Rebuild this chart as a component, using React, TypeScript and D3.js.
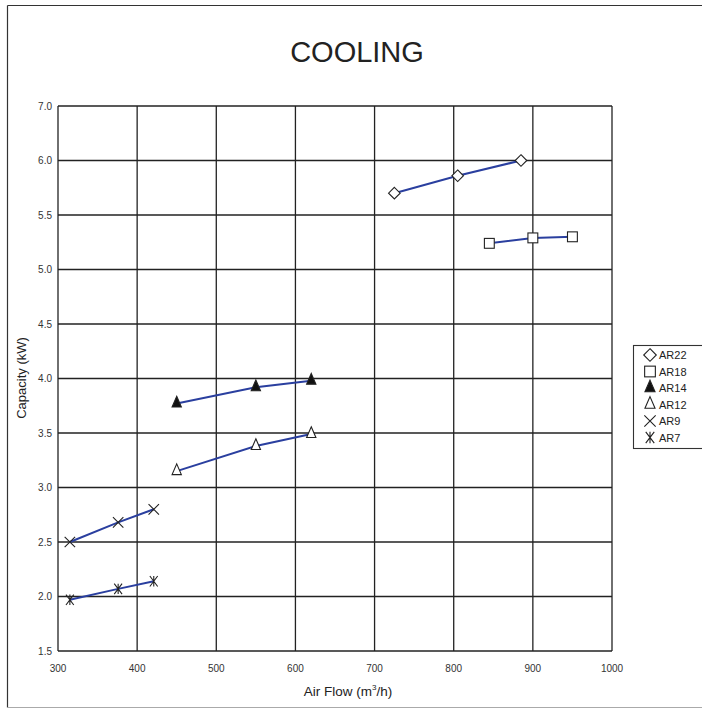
import React from "react";
import * as d3 from "d3";

const W = 702;
const H = 709;

const xTicks = [300, 400, 500, 600, 700, 800, 900, 1000];
const yTickValues = [1.5, 2.0, 2.5, 3.0, 3.5, 4.0, 4.5, 5.0, 5.5, 6.0, 6.5];
const yTickLabels = ["1.5", "2.0", "2.5", "3.0", "3.5", "4.0", "4.5", "5.0", "5.5", "6.0", "7.0"];

const seriesNames = ["AR22", "AR18", "AR14", "AR12", "AR9", "AR7"];
const markerTypes = ["diamond", "square", "triFilled", "triOpen", "x", "asterisk"];

const ar22Flow = [725, 805, 885];
const ar22Cap = [5.70, 5.86, 6.0];
const ar18Flow = [845, 900, 950];
const ar18Cap = [5.24, 5.29, 5.30];
const ar14Flow = [450, 550, 620];
const ar14Cap = [3.77, 3.92, 3.98];
const ar12Flow = [450, 550, 620];
const ar12Cap = [3.15, 3.38, 3.49];
const ar9Flow = [315, 376, 421];
const ar9Cap = [2.50, 2.68, 2.80];
const ar7Flow = [315, 376, 421];
const ar7Cap = [1.97, 2.07, 2.14];

const flows = [ar22Flow, ar18Flow, ar14Flow, ar12Flow, ar9Flow, ar7Flow];
const caps = [ar22Cap, ar18Cap, ar14Cap, ar12Cap, ar9Cap, ar7Cap];

const left = 58, right = 612, top = 106, bottom = 651;
const x = d3.scaleLinear().domain([300, 1000]).range([left, right]);
const y = d3.scaleLinear().domain([1.5, 6.5]).range([bottom, top]);

function Marker({ type, cx, cy, s }: { type: string; cx: number; cy: number; s: number }) {
  const st = { stroke: "#222", strokeWidth: 1.1 };
  if (type === "diamond") {
    return <path d={`M${cx},${cy - s}L${cx + s},${cy}L${cx},${cy + s}L${cx - s},${cy}Z`} fill="#fff" {...st} />;
  }
  if (type === "square") {
    const h = s * 0.85;
    return <rect x={cx - h} y={cy - h} width={2 * h} height={2 * h} fill="#fff" {...st} />;
  }
  if (type === "triFilled" || type === "triOpen") {
    const filled = type === "triFilled";
    return (
      <path
        d={`M${cx},${cy - s * 1.25}L${cx + s * 0.8},${cy + s * 0.6}L${cx - s * 0.8},${cy + s * 0.6}Z`}
        fill={filled ? "#111" : "#fff"}
        {...st}
      />
    );
  }
  if (type === "x") {
    const h = s * 0.9;
    return <path d={`M${cx - h},${cy - h}L${cx + h},${cy + h}M${cx - h},${cy + h}L${cx + h},${cy - h}`} fill="none" {...st} />;
  }
  const h = s * 0.9;
  return (
    <path
      d={`M${cx - h * 0.75},${cy - h}L${cx + h * 0.75},${cy + h}M${cx - h * 0.75},${cy + h}L${cx + h * 0.75},${cy - h}M${cx},${cy - h}L${cx},${cy + h}`}
      fill="none"
      {...st}
    />
  );
}

export default function App() {
  const line = d3
    .line<[number, number]>()
    .x((d) => x(d[0]))
    .y((d) => y(d[1]));

  const tickFont = "'Liberation Sans Narrow', 'Arial Narrow', 'Liberation Sans', Arial, sans-serif";
  const font = "'Liberation Sans', Arial, sans-serif";

  return (
    <svg width={W} height={H} style={{ position: "absolute", left: 0, top: 0, background: "#fff" }}>
      <rect x={0} y={0} width={W} height={H} fill="#fff" />
      {/* outer frame */}
      <line x1={7.5} y1={5.5} x2={W + 2} y2={5.5} stroke="#333" strokeWidth={1.2} />
      <line x1={7.5} y1={5.5} x2={7.5} y2={707.5} stroke="#333" strokeWidth={1.2} />
      <line x1={7.5} y1={707.5} x2={W + 2} y2={707.5} stroke="#aaa" strokeWidth={1.2} />

      <text x={357} y={62} textAnchor="middle" fontFamily={font} fontSize={29} fill="#222">
        COOLING
      </text>

      {/* grid */}
      {yTickValues.map((v) => (
        <line key={"h" + v} x1={left} x2={right} y1={y(v)} y2={y(v)} stroke="#222" strokeWidth={1.3} />
      ))}
      {xTicks.map((v) => (
        <line key={"v" + v} x1={x(v)} x2={x(v)} y1={top} y2={bottom} stroke="#222" strokeWidth={1.3} />
      ))}

      {/* tick labels */}
      {yTickValues.map((v, i) => (
        <text key={"yl" + v} x={52} y={y(v) + 3.5} textAnchor="end" fontFamily={tickFont} fontSize={10} fill="#333">
          {yTickLabels[i]}
        </text>
      ))}
      {xTicks.map((v) => (
        <text key={"xl" + v} x={x(v)} y={672} textAnchor="middle" fontFamily={tickFont} fontSize={10} fill="#333">
          {v}
        </text>
      ))}

      <text
        transform={`translate(26,378) rotate(-90)`}
        textAnchor="middle"
        fontFamily={font}
        fontSize={13}
        fill="#222"
      >
        Capacity (kW)
      </text>
      <text x={348} y={696} textAnchor="middle" fontFamily={font} fontSize={13.5} fill="#222">
        Air Flow (m
        <tspan dy={-6} fontSize={8}>3</tspan>
        <tspan dy={6}>/h)</tspan>
      </text>

      {/* series */}
      {seriesNames.map((name, si) => {
        const pts = flows[si].map((f, i) => [f, caps[si][i]] as [number, number]);
        return (
          <g key={name}>
            <path d={line(pts) || ""} fill="none" stroke="#2a3f9f" strokeWidth={2} />
            {pts.map((p, i) => (
              <Marker key={i} type={markerTypes[si]} cx={x(p[0])} cy={y(p[1])} s={5.8} />
            ))}
          </g>
        );
      })}

      {/* legend */}
      <rect x={633.5} y={345.5} width={80} height={103} fill="#fff" stroke="#333" strokeWidth={1.1} />
      {seriesNames.map((name, i) => {
        const cy = 355 + i * 16.5;
        return (
          <g key={"lg" + name}>
            <Marker type={markerTypes[i]} cx={650} cy={cy} s={6.3} />
            <text x={659} y={cy + 4} fontFamily={font} fontSize={11} fill="#222">
              {name}
            </text>
          </g>
        );
      })}
    </svg>
  );
}
